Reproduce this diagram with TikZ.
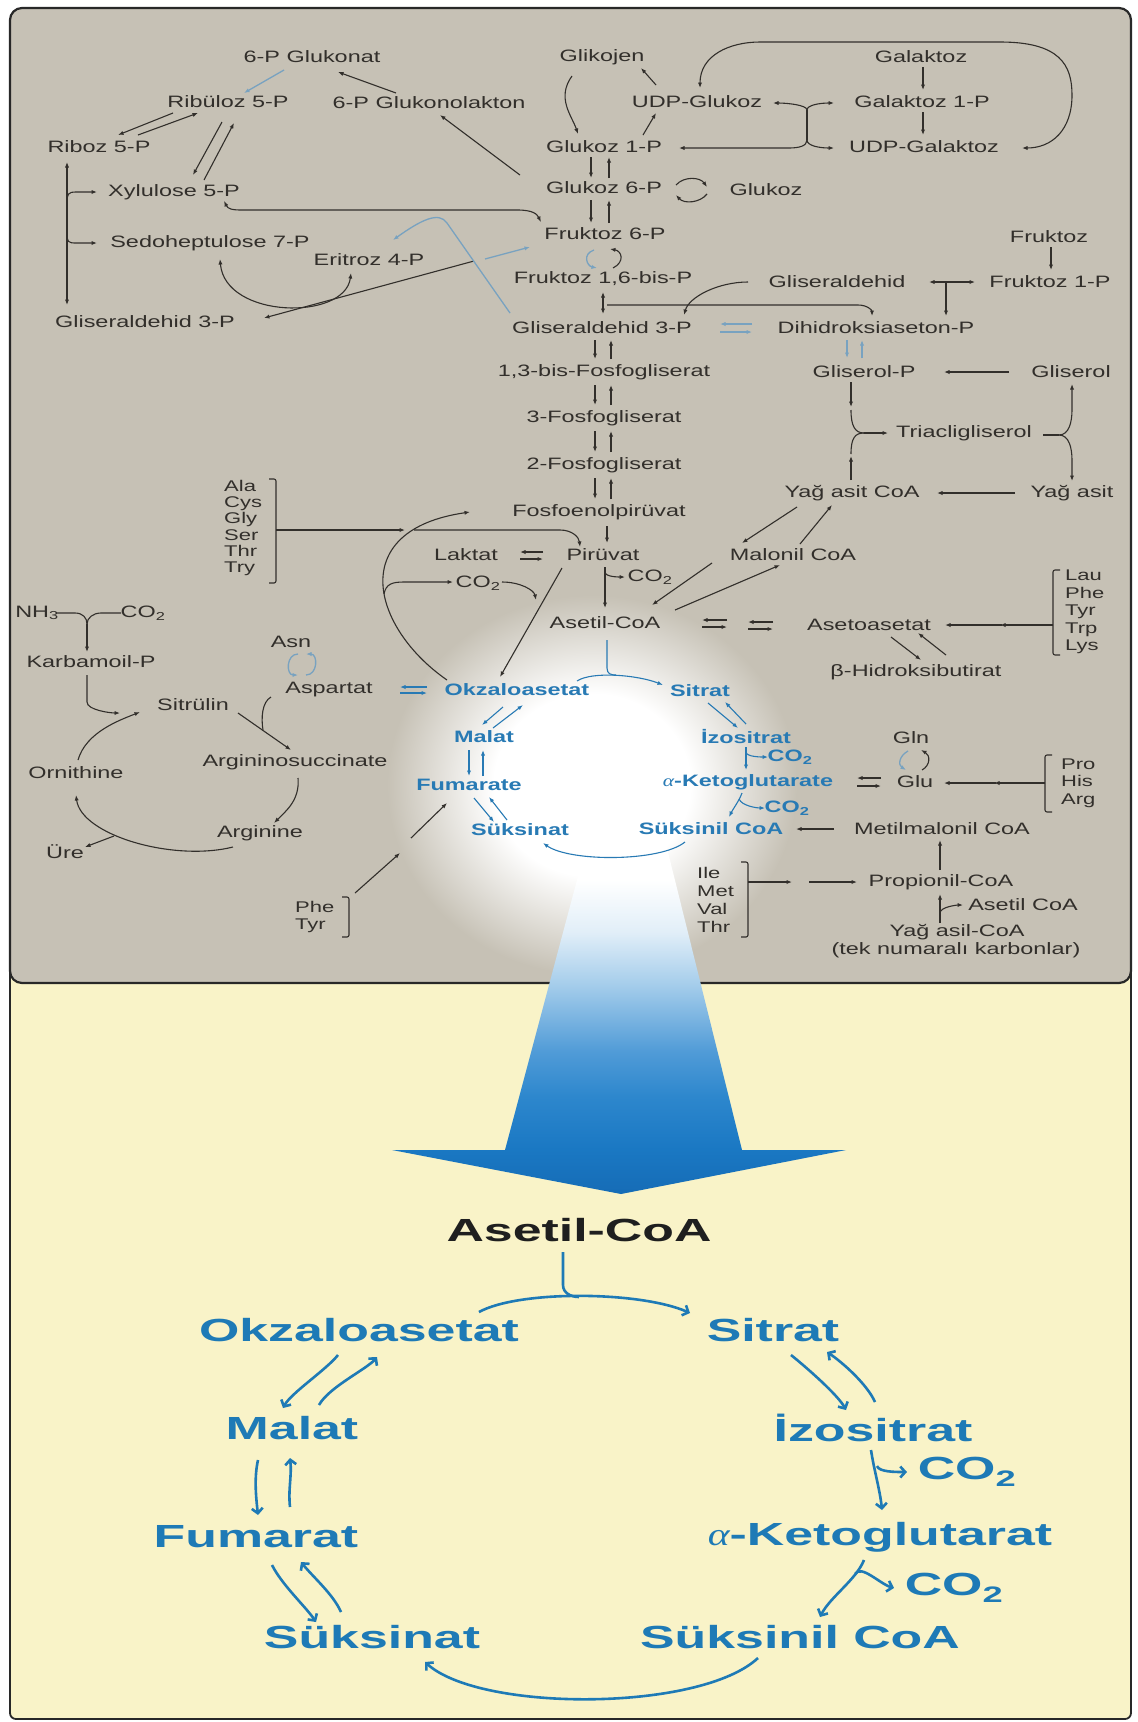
\documentclass[tikz,border=0pt]{standalone}
\usepackage{fontspec}
\setmainfont{Liberation Sans}
\newfontfamily\uf[FakeStretch=1.42]{Liberation Sans}
\newfontfamily\lf[FakeStretch=1.62]{Liberation Sans}
\newfontfamily\alf[FakeStretch=1.3]{Liberation Serif}
\usetikzlibrary{arrows.meta,calc}

\definecolor{panel}{RGB}{198,193,181}
\definecolor{paper}{RGB}{249,243,200}
\definecolor{ink}{RGB}{50,47,43}
\definecolor{frame}{RGB}{40,40,40}
\definecolor{paleblue}{RGB}{120,162,192}
\definecolor{tcablue}{RGB}{40,122,180}
\definecolor{lowblue}{RGB}{30,122,182}
\definecolor{bA}{RGB}{22,108,182}
\definecolor{bB}{RGB}{26,120,195}
\definecolor{bC}{RGB}{45,135,205}
\definecolor{bD}{RGB}{80,155,215}
\definecolor{bE}{RGB}{165,205,235}
\definecolor{bF}{RGB}{225,238,248}

% white halo behind the citric acid cycle
\pgfdeclareradialshading{glowshade}{\pgfpoint{0bp}{0bp}}{color(0bp)=(white); color(12bp)=(white); color(25bp)=(panel); color(50bp)=(panel)}
% broad arrow fading from white into blue
\pgfdeclareverticalshading{beamshade}{100bp}{color(0bp)=(bA); color(25bp)=(bA); color(31bp)=(bB); color(38bp)=(bC); color(44bp)=(bD); color(53bp)=(bE); color(60bp)=(bF); color(67bp)=(white); color(100bp)=(white)}

\tikzset{
  lab/.style={font=\uf\fontsize{16.5}{19}\selectfont, text=ink, inner sep=1pt},
  tcalab/.style={font=\uf\bfseries\fontsize{16.5}{19}\selectfont, text=tcablue, inner sep=1pt},
  biglab/.style={font=\lf\bfseries\fontsize{32}{36}\selectfont, text=lowblue, inner sep=1pt},
  acids/.style={font=\uf\fontsize{15.5}{17.6}\selectfont, text=ink, align=left, inner sep=0pt, anchor=west},
  wire/.style={draw=ink, line width=1.1pt},
  paleline/.style={draw=paleblue, line width=1.3pt},
  tcaline/.style={draw=tcablue, line width=1.1pt},
  bigline/.style={draw=lowblue, line width=2.6pt, >={Straight Barb[length=5pt,width=11pt]}},
  bracket/.style={draw=ink, line width=1.1pt, rounded corners=2pt},
}

\begin{document}
\begin{tikzpicture}[x=1pt, y=-1pt, >={Latex[length=5.5pt,width=4.2pt]}]
\useasboundingbox (0,0) rectangle (1138,1722);
\fill[white] (0,0) rectangle (1138,1722);

% panels
\draw[frame, line width=1.8pt, fill=paper, rounded corners=6pt] (10,940) rectangle (1131,1719);
\draw[frame, line width=2.2pt, fill=panel, rounded corners=12pt] (10,8) rectangle (1131,983);
\begin{scope}
  \clip[rounded corners=12pt] (10,8) rectangle (1131,983);
  \shade[shading=glowshade] (592,785) ellipse [x radius=205, y radius=190];
\end{scope}
\shade[shading=beamshade] (593,820) -- (660,820) -- (742,1150) -- (846,1150) -- (621,1194) -- (392,1150) -- (505,1150) -- cycle;

% ---------- upper panel: metabolites ----------
\node[lab] (glukonat) at (312,57) {6-P Glukonat};
\node[lab] (ribuloz) at (228,102) {Ribüloz 5-P};
\node[lab] (lakton) at (429,103) {6-P Glukonolakton};
\node[lab] (riboz) at (99,147) {Riboz 5-P};
\node[lab] (xylu) at (174,192) {Xylulose 5-P};
\node[lab] (sedo) at (210,243) {Sedoheptulose 7-P};
\node[lab] (eritroz) at (369,260) {Eritroz 4-P};
\node[lab] (gapL) at (145,322) {Gliseraldehid 3-P};
\node[lab] (glikojen) at (602,57) {Glikojen};
\node[lab] (galaktoz) at (921,57) {Galaktoz};
\node[lab] (udpglu) at (697,102) {UDP-Glukoz};
\node[lab] (gal1p) at (922,102) {Galaktoz 1-P};
\node[lab] (glu1p) at (604,147) {Glukoz 1-P};
\node[lab] (udpgal) at (924,147) {UDP-Galaktoz};
\node[lab] (glu6p) at (604,188) {Glukoz 6-P};
\node[lab] (glukoz) at (766,190) {Glukoz};
\node[lab] (fru6p) at (605,234) {Fruktoz 6-P};
\node[lab] (fruktoz) at (1049,237) {Fruktoz};
\node[lab] (f16bp) at (603,279) {Fruktoz 1,6-bis-P};
\node[lab] (gald) at (837,282) {Gliseraldehid};
\node[lab] (fru1p) at (1050,282) {Fruktoz 1-P};
\node[lab] (gap) at (602,328) {Gliseraldehid 3-P};
\node[lab] (dhap) at (876,328) {Dihidroksiaseton-P};
\node[lab] (bpg) at (604,372) {1,3-bis-Fosfogliserat};
\node[lab] (glp) at (864,372) {Gliserol-P};
\node[lab] (gliserol) at (1071,372) {Gliserol};
\node[lab] (pg3) at (604,418) {3-Fosfogliserat};
\node[lab] (tag) at (964,433) {Triacligliserol};
\node[lab] (pg2) at (604,465) {2-Fosfogliserat};
\node[lab] (facoa) at (852,493) {Yağ asit CoA};
\node[lab] (fa) at (1072,493) {Yağ asit};
\node[lab] (pep) at (599,512) {Fosfoenolpirüvat};
\node[lab] (pir) at (603,555) {Pirüvat};
\node[lab] (laktat) at (466,555) {Laktat};
\node[lab] (malonil) at (793,555) {Malonil CoA};
\node[lab] (co2pdh) at (650,577) {CO\textsubscript{2}};
\node[lab] (co2pc) at (478,583) {CO\textsubscript{2}};
\node[lab] (acoa) at (605,623) {Asetil-CoA};
\node[lab] (aceto) at (869,625) {Asetoasetat};
\node[lab] (hbut) at (916,672) {β-Hidroksibutirat};
\node[lab] (asn) at (291,642) {Asn};
\node[lab] (asp) at (329,690) {Aspartat};
\node[lab] (gln) at (911,738) {Gln};
\node[lab] (glu) at (915,782) {Glu};
\node[lab] (mmcoa) at (942,829) {Metilmalonil CoA};
\node[lab] (propcoa) at (941,882) {Propionil-CoA};
\node[lab] (acoa2) at (1023,905) {Asetil CoA};
\node[lab] (facyl) at (957,932) {Yağ asil-CoA};
\node[lab] (tek) at (956,950) {(tek numaralı karbonlar)};
\node[lab] (nh3) at (37,613) {NH\textsubscript{3}};
\node[lab] (co2u) at (143,613) {CO\textsubscript{2}};
\node[lab] (karb) at (91,662) {Karbamoil-P};
\node[lab] (sitrulin) at (193,705) {Sitrülin};
\node[lab] (orn) at (76,773) {Ornithine};
\node[lab] (argsuc) at (295,762) {Argininosuccinate};
\node[lab] (arg) at (260,833) {Arginine};
\node[lab] (ure) at (65,852) {Üre};

% amino acid groups
\node[acids, font=\uf\fontsize{15.5}{16.2}\selectfont] (ala) at (224,528) {Ala\\Cys\\Gly\\Ser\\Thr\\Try};
\node[acids] (lau) at (1065,612) {Lau\\Phe\\Tyr\\Trp\\Lys};
\node[acids] (pro) at (1061,783) {Pro\\His\\Arg};
\node[acids, font=\uf\fontsize{15.5}{18}\selectfont] (ile) at (697,900) {Ile\\Met\\Val\\Thr};
\node[acids, font=\uf\fontsize{15.5}{17}\selectfont] (phe) at (295,917) {Phe\\Tyr};

% citric acid cycle, small
\node[tcalab] (okzU) at (517,690) {Okzaloasetat};
\node[tcalab] (sitU) at (700,691) {Sitrat};
\node[tcalab] (malU) at (484,737) {Malat};
\node[tcalab] (izoU) at (746,737) {İzositrat};
\node[tcalab] (fumU) at (469,785) {Fumarate};
\node[tcalab] (akgU) at (748,782) {{\alf\mdseries\itshape α}-Ketoglutarate};
\node[tcalab] (suksU) at (520,830) {Süksinat};
\node[tcalab] (sukcU) at (711,829) {Süksinil CoA};
\node[tcalab] (co2i) at (790,757) {CO\textsubscript{2}};
\node[tcalab] (co2k) at (787,808) {CO\textsubscript{2}};

% ---------- pentose phosphate pathway ----------
\draw[paleline,->] ($(glukonat)+(-28,13)$) -- ($(ribuloz)+(16,-9)$);
\draw[wire,->] ($(lakton)+(-33,-10)$) -- ($(glukonat)+(26,15)$);
\draw[wire,->] ($(glu6p)+(-84,-13)$) -- ($(lakton)+(11,12)$);
\draw[wire,->] ($(ribuloz)+(-55,11)$) -- ($(riboz)+(19,-12)$);
\draw[wire,->] ($(riboz)+(39,-12)$) -- ($(ribuloz)+(-30,11)$);
\draw[wire,->] ($(ribuloz)+(-6,20)$) -- ($(xylu)+(19,-17)$);
\draw[wire,->] ($(xylu)+(30,-12)$) -- ($(ribuloz)+(6,21)$);
\draw[wire,<->] ($(riboz)+(-32,15)$) -- ($(gapL)+(-78,-17)$);
\draw[wire,->] ($(riboz)+(-32,56)$) .. controls +(0,-9) and +(-8,0) .. ($(xylu)+(-98,0)$) -- ($(xylu)+(-77,0)$);
\draw[wire,->] ($(riboz)+(-32,86)$) .. controls +(0,9) and +(-8,0) .. ($(sedo)+(-134,0)$) -- ($(sedo)+(-113,0)$);
\draw[wire,<->] ($(xylu)+(50,9)$) .. controls +(4,8) and +(-10,0) .. ($(xylu)+(68,18)$) -- ($(fru6p)+(-88,-24)$) .. controls +(16,0) and +(-4,-8) .. ($(fru6p)+(-64,-12)$);
\draw[wire,<->] ($(sedo)+(10,16)$) .. controls +(5,60) and +(-6,48) .. ($(eritroz)+(-18,13)$);
\draw[wire,<-] ($(gapL)+(119,-4)$) -- ($(fru6p)+(-131,27)$);
\draw[paleline,->] ($(fru6p)+(-120,25)$) -- ($(fru6p)+(-75,13)$);
\draw[paleline,->] ($(gap)+(-92,-15)$) -- ($(gap)+(-155,-105)$) .. controls +(-8,-12) and +(28,-20) .. ($(eritroz)+(24,-20)$);

% ---------- glycogen and galactose ----------
\draw[wire,->] ($(glikojen)+(-30,19)$) .. controls +(-16,22) and +(-6,-18) .. ($(glu1p)+(-26,-13)$);
\draw[wire,->] ($(udpglu)+(-41,-17)$) -- ($(glikojen)+(39,11)$);
\draw[wire,->] ($(glu1p)+(39,-12)$) -- ($(udpglu)+(-41,11)$);
\draw[wire,<->] ($(udpglu)+(3,-14)$) .. controls +(0,-33) and +(-30,0) .. ($(udpglu)+(63,-60)$) -- ($(udpgal)+(76,-105)$) .. controls +(60,0) and +(0,-30) .. ($(udpgal)+(148,-52)$) .. controls +(0,35) and +(30,0) .. ($(udpgal)+(98,1)$);
\draw[wire,->] ($(galaktoz)+(2,10)$) -- ($(gal1p)+(1,-12)$);
\draw[wire,->] ($(gal1p)+(1,10)$) -- ($(udpgal)+(-1,-12)$);
\coordinate (epiA) at ($(udpgal)+(-117,-37)$);
\coordinate (epiB) at ($(udpgal)+(-117,-7)$);
\draw[wire,->] (epiA) .. controls +(0,-5) and +(14,0) .. ($(udpglu)+(76,1)$);
\draw[wire,->] (epiA) .. controls +(0,-5) and +(-14,0) .. ($(gal1p)+(-88,1)$);
\draw[wire] (epiA) -- (epiB);
\draw[wire,->] (epiB) .. controls +(0,6) and +(10,0) .. ($(glu1p)+(185,1)$) -- ($(glu1p)+(75,1)$);
\draw[wire,->] (epiB) .. controls +(0,6) and +(-14,0) .. ($(udpgal)+(-90,1)$);

% ---------- glycolysis ----------
\draw[wire,->] ($(glu1p)+(-13,10)$) -- ($(glu6p)+(-13,-10)$);
\draw[wire,->] ($(glu6p)+(5,-10)$) -- ($(glu1p)+(5,10)$);
\draw[wire,->] ($(glu6p)+(-13,12)$) -- ($(fru6p)+(-14,-11)$);
\draw[wire,->] ($(fru6p)+(4,-11)$) -- ($(glu6p)+(5,12)$);
\draw[wire,->] ($(glu6p)+(72,-3)$) .. controls +(8,-9) and +(-7,-10) .. ($(glu6p)+(103,-1)$);
\draw[wire,->] ($(glu6p)+(103,6)$) .. controls +(-7,9) and +(8,9) .. ($(glu6p)+(72,7)$);
\draw[paleline,->] ($(fru6p)+(-11,16)$) .. controls +(-12,4) and +(-10,-2) .. ($(f16bp)+(-6,-11)$);
\draw[wire,->] ($(f16bp)+(10,-11)$) .. controls +(12,-6) and +(12,2) .. ($(fru6p)+(5,15)$);
\draw[wire,<->] ($(f16bp)+(0,13)$) -- ($(gap)+(1,-14)$);
\draw[wire,->] ($(f16bp)+(4,26)$) -- ($(dhap)+(-18,-23)$) .. controls +(9,0) and +(0,-6) .. ($(dhap)+(-4,-12)$);
\draw[wire,->] ($(gald)+(-89,0)$) .. controls +(-30,0) and +(5,-18) .. ($(gap)+(82,-13)$);
\draw[wire,->] ($(fruktoz)+(2,10)$) -- ($(fru1p)+(1,-12)$);
\draw[wire,<->] ($(gald)+(92,0)$) -- ($(fru1p)+(-75,0)$);
\draw[wire,->] ($(fru1p)+(-104,0)$) -- ($(dhap)+(70,-12)$);
\draw[paleline,->] ($(dhap)+(-124,-4)$) -- ($(gap)+(118,-4)$);
\draw[paleline,->] ($(gap)+(118,4)$) -- ($(dhap)+(-124,4)$);
\draw[paleline,->] ($(dhap)+(-29,12)$) -- ($(glp)+(-17,-14)$);
\draw[paleline,->] ($(glp)+(-2,-14)$) -- ($(dhap)+(-14,12)$);
\draw[wire,->] ($(gliserol)+(-62,0)$) -- ($(glp)+(80,0)$);
\draw[wire,->] ($(gap)+(-7,12)$) -- ($(bpg)+(-9,-13)$);
\draw[wire,->] ($(bpg)+(7,-13)$) -- ($(gap)+(9,12)$);
\draw[wire,->] ($(bpg)+(-9,13)$) -- ($(pg3)+(-9,-13)$);
\draw[wire,->] ($(pg3)+(7,-13)$) -- ($(bpg)+(7,13)$);
\draw[wire,->] ($(pg3)+(-9,13)$) -- ($(pg2)+(-9,-13)$);
\draw[wire,->] ($(pg2)+(7,-13)$) -- ($(pg3)+(7,13)$);
\draw[wire,->] ($(pg2)+(-9,13)$) -- ($(pep)+(-4,-13)$);
\draw[wire,->] ($(pep)+(12,-13)$) -- ($(pg2)+(7,13)$);
\draw[wire,->] ($(pep)+(8,14)$) -- ($(pir)+(4,-12)$);
\draw[wire,->] ($(laktat)+(77,-3)$) -- ($(laktat)+(54,-3)$);
\draw[wire,->] ($(laktat)+(54,4)$) -- ($(pir)+(-60,4)$);
\draw[wire,->] ($(pir)+(2,12)$) -- ($(acoa)+(0,-15)$);
\draw[wire,->] ($(pir)+(2,17)$) .. controls +(0,5) and +(-6,0) .. ($(co2pdh)+(-25,0)$);

% ---------- lipids ----------
\coordinate (tagin) at ($(tag)+(-100,0)$);
\coordinate (tagout) at ($(tag)+(95,2)$);
\draw[wire,->] ($(glp)+(-13,10)$) -- ($(glp)+(-13,35)$);
\draw[wire] ($(glp)+(-13,38)$) .. controls +(0,16) and +(-9,0) .. (tagin);
\draw[wire] ($(facoa)+(-1,-39)$) .. controls +(0,-16) and +(-9,0) .. (tagin);
\draw[wire,->] ($(facoa)+(-1,-13)$) -- ($(facoa)+(-1,-37)$);
\draw[wire,->] (tagin) -- ($(tag)+(-76,0)$);
\draw[wire] ($(tag)+(79,2)$) -- (tagout);
\draw[wire,->] (tagout) .. controls +(10,0) and +(0,12) .. ($(gliserol)+(1,38)$) -- ($(gliserol)+(1,12)$);
\draw[wire,->] (tagout) .. controls +(10,0) and +(0,-12) .. ($(fa)+(0,-33)$) -- ($(fa)+(0,-12)$);
\draw[wire,->] ($(fa)+(-57,0)$) -- ($(facoa)+(85,0)$);
\draw[wire,->] ($(facoa)+(-55,14)$) -- ($(malonil)+(-51,-12)$);
\draw[wire,->] ($(malonil)+(7,-11)$) -- ($(facoa)+(-20,12)$);
\draw[wire,->] ($(malonil)+(-81,8)$) -- ($(acoa)+(47,-18)$);
\draw[wire,->] ($(acoa)+(70,-13)$) -- ($(malonil)+(-13,10)$);

% ---------- ketone bodies ----------
\draw[wire,->] ($(acoa)+(122,-3)$) -- ($(acoa)+(97,-3)$);
\draw[wire,->] ($(acoa)+(97,4)$) -- ($(acoa)+(122,4)$);
\draw[wire,->] ($(aceto)+(-96,-3)$) -- ($(aceto)+(-121,-3)$);
\draw[wire,->] ($(aceto)+(-121,4)$) -- ($(aceto)+(-96,4)$);
\draw[wire,->] ($(aceto)+(22,12)$) -- ($(hbut)+(5,-12)$);
\draw[wire,->] ($(hbut)+(30,-17)$) -- ($(aceto)+(49,8)$);
\draw[bracket] ($(lau.west)+(-5,-42)$) -- ($(lau.west)+(-12,-42)$) -- ($(lau.west)+(-12,43)$) -- ($(lau.west)+(-5,43)$);
\draw[wire,->] ($(lau.west)+(-12,13)$) -- ($(aceto)+(131,0)$);
\draw[wire,->] ($(aceto)+(133,0)$) -- ($(aceto)+(76,0)$);

% ---------- glutamate, propionate ----------
\draw[bracket] ($(pro.west)+(-9,-28)$) -- ($(pro.west)+(-16,-28)$) -- ($(pro.west)+(-16,29)$) -- ($(pro.west)+(-9,29)$);
\draw[wire,->] ($(pro.west)+(-16,0)$) -- ($(glu)+(79,1)$);
\draw[wire,->] ($(glu)+(81,1)$) -- ($(glu)+(29,1)$);
\draw[wire,->] ($(glu)+(-34,-4)$) -- ($(glu)+(-58,-4)$);
\draw[wire,->] ($(glu)+(-58,4)$) -- ($(glu)+(-34,4)$);
\draw[paleline,->] ($(gln)+(-3,13)$) .. controls +(-9,5) and +(-8,-5) .. ($(glu)+(-9,-12)$);
\draw[wire,->] ($(glu)+(7,-12)$) .. controls +(9,-5) and +(9,5) .. ($(gln)+(10,12)$);
\draw[wire,->] ($(mmcoa)+(-108,0)$) -- ($(sukcU)+(85,0)$);
\draw[wire,->] ($(propcoa)+(-1,-12)$) -- ($(mmcoa)+(-2,11)$);
\draw[bracket] ($(ile.west)+(44,-38)$) -- ($(ile.west)+(51,-38)$) -- ($(ile.west)+(51,37)$) -- ($(ile.west)+(44,37)$);
\draw[wire,->] ($(ile.west)+(51,-18)$) -- ($(propcoa)+(-149,0)$);
\draw[wire,->] ($(propcoa)+(-132,0)$) -- ($(propcoa)+(-84,0)$);
\draw[wire,->] ($(facyl)+(-17,-9)$) -- ($(propcoa)+(-1,12)$);
\draw[wire,->] ($(facyl)+(-17,-19)$) .. controls +(0,-6) and +(-6,0) .. ($(acoa2)+(-60,0)$);

% ---------- urea cycle ----------
\coordinate (cpj) at ($(karb)+(-4,-38)$);
\draw[wire] ($(nh3)+(19,0)$) -- ($(nh3)+(38,0)$) .. controls +(8,0) and +(0,-6) .. (cpj);
\draw[wire] ($(co2u)+(-22,0)$) -- ($(co2u)+(-42,0)$) .. controls +(-8,0) and +(0,-6) .. (cpj);
\draw[wire,->] (cpj) -- ($(karb)+(-4,-10)$);
\draw[wire,->] ($(karb)+(-4,13)$) -- ($(karb)+(-4,40)$) .. controls +(0,8) and +(-10,0) .. ($(sitrulin)+(-73,8)$);
\draw[wire,->] ($(orn)+(2,-13)$) .. controls +(8,-28) and +(-20,8) .. ($(sitrulin)+(-53,7)$);
\draw[wire,->] ($(sitrulin)+(45,8)$) -- ($(argsuc)+(-4,-12)$);
\draw[wire] ($(asp)+(-58,7)$) .. controls +(-9,5) and +(-2,-12) .. ($(sitrulin)+(70,25)$);
\draw[wire,->] ($(argsuc)+(3,16)$) .. controls +(2,22) and +(12,-12) .. ($(arg)+(14,-10)$);
\draw[wire,->] ($(arg)+(-27,14)$) .. controls +(-60,15) and +(5,40) .. ($(orn)+(0,22)$);
\draw[wire,->] ($(orn)+(38,63)$) -- ($(ure)+(20,-5)$);

% ---------- amino acids into the cycle ----------
\draw[bracket] ($(ala.west)+(45,-49)$) -- ($(ala.west)+(52,-49)$) -- ($(ala.west)+(52,55)$) -- ($(ala.west)+(45,55)$);
\draw[wire,->] ($(ala.west)+(52,2)$) -- ($(pep)+(-194,18)$);
\draw[wire,->] ($(pep)+(-185,18)$) -- ($(pir)+(-43,-25)$) .. controls +(12,0) and +(-1,-10) .. ($(pir)+(-23,-8)$);
\draw[wire,->] ($(okzU)+(-70,-10)$) .. controls +(-75,-52) and +(-125,18) .. ($(pep)+(-129,0)$);
\draw[wire,->] ($(co2pc)+(-94,11)$) .. controls +(2,-10) and +(-12,0) .. ($(co2pc)+(-74,-1)$) -- ($(co2pc)+(-25,-1)$);
\draw[wire,->] ($(co2pc)+(24,-1)$) .. controls +(18,0) and +(-2,-10) .. ($(co2pc)+(58,17)$);
\draw[wire,->] ($(pir)+(-41,13)$) -- ($(okzU)+(-17,-13)$);
\draw[bracket] ($(phe.west)+(47,-20)$) -- ($(phe.west)+(54,-20)$) -- ($(phe.west)+(54,20)$) -- ($(phe.west)+(47,20)$);
\draw[wire,->] ($(phe.west)+(60,-24)$) -- ($(fumU)+(-69,68)$);
\draw[wire,->] ($(fumU)+(-58,53)$) -- ($(fumU)+(-22,18)$);

% ---------- citric acid cycle, small ----------
\draw[tcaline,->] ($(asp)+(98,-3)$) -- ($(asp)+(71,-3)$);
\draw[tcaline,->] ($(asp)+(71,3)$) -- ($(okzU)+(-90,3)$);
\draw[paleline,->] ($(asn)+(7,12)$) .. controls +(-12,0) and +(-12,0) .. ($(asp)+(-31,-15)$);
\draw[paleline,->] ($(asp)+(-23,-15)$) .. controls +(12,0) and +(12,0) .. ($(asn)+(15,12)$);
\draw[tcaline] ($(acoa)+(2,17)$) -- ($(acoa)+(2,45)$) .. controls +(0,6) and +(-5,0) .. ($(acoa)+(11,52)$);
\draw[tcaline,->] ($(okzU)+(60,-9)$) .. controls +(15,-10) and +(-25,-10) .. ($(sitU)+(-37,-6)$);
\draw[tcaline,->] ($(okzU)+(-14,17)$) -- ($(malU)+(-2,-12)$);
\draw[tcaline,->] ($(malU)+(9,-9)$) -- ($(okzU)+(6,15)$);
\draw[tcaline,->] ($(malU)+(-15,13)$) -- ($(fumU)+(0,-9)$);
\draw[tcaline,->] ($(fumU)+(14,-9)$) -- ($(malU)+(-1,13)$);
\draw[tcaline,->] ($(fumU)+(5,13)$) -- ($(suksU)+(-26,-8)$);
\draw[tcaline,->] ($(suksU)+(-13,-10)$) -- ($(fumU)+(20,12)$);
\draw[tcaline,->] ($(sitU)+(8,12)$) -- ($(izoU)+(-8,-9)$);
\draw[tcaline,->] ($(izoU)+(0,-13)$) -- ($(sitU)+(25,11)$);
\draw[tcaline,->] ($(izoU)+(0,10)$) -- ($(akgU)+(-2,-12)$);
\draw[tcaline,->] ($(izoU)+(0,15)$) .. controls +(0,5) and +(-6,0) .. ($(co2i)+(-22,0)$);
\draw[tcaline,->] ($(akgU)+(-6,11)$) .. controls +(-3,8) and +(4,-8) .. ($(sukcU)+(18,-12)$);
\draw[tcaline,->] ($(akgU)+(-9,17)$) .. controls +(3,7) and +(-8,0) .. ($(co2k)+(-22,0)$);
\draw[tcaline,->] ($(sukcU)+(-26,13)$) .. controls +(-25,20) and +(27,19) .. ($(suksU)+(23,13)$);

% ---------- citric acid cycle, enlarged ----------
\node[biglab, text=black!88] (acoaL) at (579,1230) {Asetil-CoA};
\node[biglab] (okzL) at (359,1330) {Okzaloasetat};
\node[biglab] (sitL) at (773,1330) {Sitrat};
\node[biglab] (malL) at (292,1428) {Malat};
\node[biglab] (izoL) at (873,1428) {İzositrat};
\node[biglab] (fumL) at (256,1537) {Fumarat};
\node[biglab] (akgL) at (880,1537) {{\alf\mdseries\itshape α}-Ketoglutarat};
\node[biglab] (co2La) at (967,1472) {CO\textsubscript{2}};
\node[biglab] (co2Lb) at (954,1588) {CO\textsubscript{2}};
\node[biglab] (suksL) at (372,1637) {Süksinat};
\node[biglab] (sukcL) at (800,1637) {Süksinil CoA};

\draw[bigline] ($(acoaL)+(-16,22)$) -- ($(acoaL)+(-16,55)$) .. controls +(0,8) and +(-8,0) .. ($(acoaL)+(0,67)$);
\draw[bigline,->] ($(okzL)+(120,-18)$) .. controls +(40,-22) and +(-50,-22) .. ($(sitL)+(-83,-17)$);
\draw[bigline,->] ($(okzL)+(-21,25)$) .. controls +(-12,15) and +(8,-15) .. ($(malL)+(-9,-20)$);
\draw[bigline,->] ($(malL)+(27,-23)$) .. controls +(10,-18) and +(-10,12) .. ($(okzL)+(18,27)$);
\draw[bigline,->] ($(sitL)+(18,25)$) .. controls +(15,12) and +(-8,-15) .. ($(izoL)+(-27,-18)$);
\draw[bigline,->] ($(izoL)+(2,-26)$) .. controls +(-8,-18) and +(15,10) .. ($(sitL)+(54,22)$);
\draw[bigline,->] ($(malL)+(-34,32)$) .. controls +(-4,18) and +(-2,-18) .. ($(fumL)+(2,-22)$);
\draw[bigline,->] ($(fumL)+(34,-30)$) .. controls +(-2,-18) and +(2,18) .. ($(malL)+(-2,30)$);
\draw[bigline,->] ($(izoL)+(-2,22)$) .. controls +(3,20) and +(-2,-20) .. ($(akgL)+(2,-27)$);
\draw[bigline,->] ($(izoL)+(4,38)$) .. controls +(2,6) and +(-12,0) .. ($(co2La)+(-60,0)$);
\draw[bigline,->] ($(akgL)+(-16,23)$) .. controls +(-8,20) and +(10,-20) .. ($(sukcL)+(20,-20)$);
\draw[bigline,->] ($(akgL)+(-25,37)$) .. controls +(6,-10) and +(-14,-4) .. ($(co2Lb)+(-60,0)$);
\draw[bigline,->] ($(fumL)+(16,28)$) .. controls +(10,20) and +(-10,-15) .. ($(suksL)+(-56,-15)$);
\draw[bigline,->] ($(suksL)+(-31,-25)$) .. controls +(-8,-18) and +(12,15) .. ($(fumL)+(45,25)$);
\draw[bigline,->] ($(sukcL)+(-42,21)$) .. controls +(-58,54) and +(55,50) .. ($(suksL)+(53,25)$);
\end{tikzpicture}
\end{document}
